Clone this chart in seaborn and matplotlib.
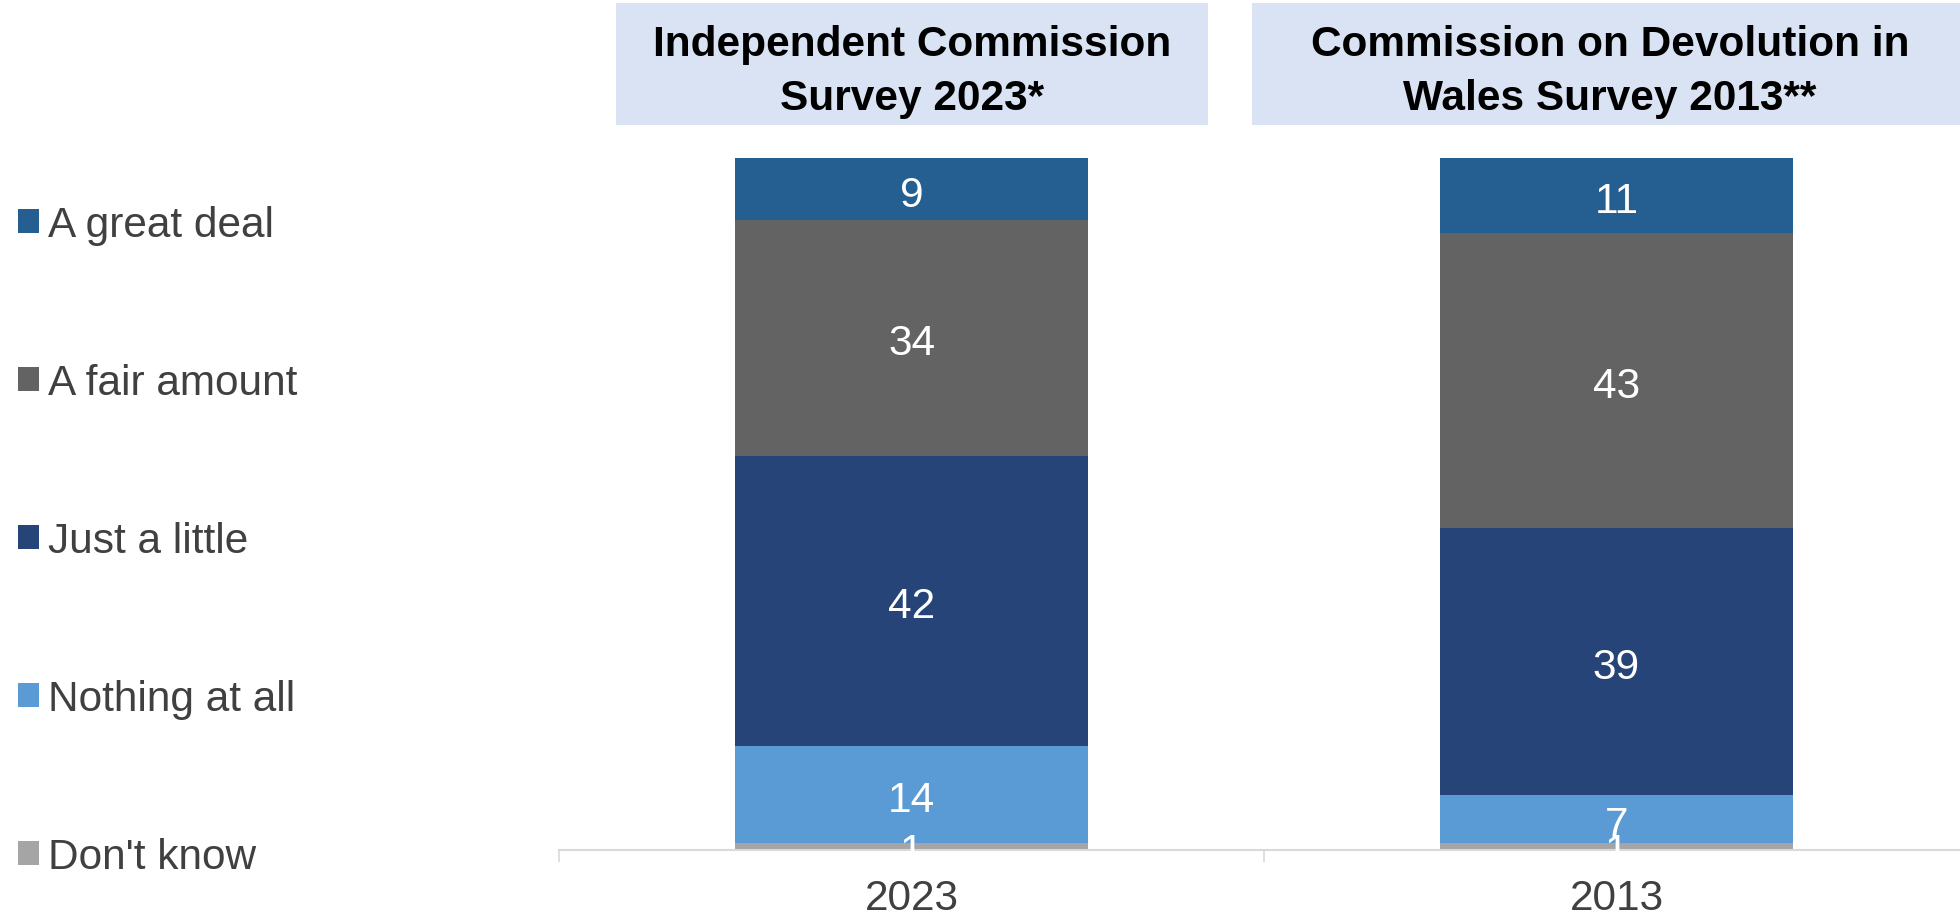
import numpy as np
import pandas as pd
import matplotlib
matplotlib.use("Agg")
import matplotlib.pyplot as plt
import seaborn as sns
from matplotlib.patches import Rectangle, Patch

# ---- data ----
years = ["2023", "2013"]
headers = ["Independent Commission\nSurvey 2023*", "Commission on Devolution in\nWales Survey 2013**"]
series_names = ["Don't know", "Nothing at all", "Just a little", "A fair amount", "A great deal"]
dont_know = [1, 1]
nothing_at_all = [14, 7]
just_a_little = [42, 39]
fair_amount = [34, 43]
great_deal = [9, 11]
colors = ["#A5A5A5", "#5B9BD5", "#264478", "#636363", "#255E91"]

sns.set_theme(style="white")
plt.rcParams["font.family"] = ["Liberation Sans", "DejaVu Sans"]

FS = 30.5
TXT = "#404040"

series = [dont_know, nothing_at_all, just_a_little, fair_amount, great_deal]
vals = np.array(series, dtype=float)  # shape (5, 2)
shares = vals / vals.sum(axis=0) * 100.0  # 100% stacked
cum = np.cumsum(shares, axis=0)

fig = plt.figure(figsize=(19.6, 9.2), dpi=100)
W, H = 1960, 920
ax = fig.add_axes([559 / W, (H - 851) / H, 1410 / W, (851 - 159) / H])

# draw tallest cumulative first, then smaller on top
for i in range(len(series) - 1, -1, -1):
    df = pd.DataFrame({"year": years, "cum": cum[i]})
    sns.barplot(data=df, x="year", y="cum", order=years, color=colors[i],
                width=0.5, saturation=1, ax=ax, linewidth=0, edgecolor="none")

# segment labels
for i in range(len(series)):
    for j in range(len(years)):
        center = cum[i, j] - shares[i, j] / 2
        ax.annotate(f"{int(vals[i, j])}", xy=(j, center), xytext=(0, -4),
                    textcoords="offset points", ha="center", va="center",
                    color="white", fontsize=FS)

ax.set_xlim(-0.5, 1.5)
ax.set_ylim(0, 100)
ax.set_xlabel("")
ax.set_ylabel("")
ax.set_yticks([])
for s in ["top", "left", "right"]:
    ax.spines[s].set_visible(False)
ax.spines["bottom"].set_color("#D9D9D9")
ax.spines["bottom"].set_linewidth(1.5)
ax.set_xticks([0, 1])
ax.set_xticklabels(years)
ax.set_xticks([-0.5, 0.5, 1.5], minor=True)
ax.tick_params(axis="x", which="major", length=0, pad=20.5, labelsize=FS, labelcolor=TXT)
ax.tick_params(axis="x", which="minor", length=8.6, width=1.2, color="#D9D9D9", direction="out", bottom=True)

# header boxes
boxes = [(616, 1208), (1252, 1975)]
text_cx = [912, 1610]
for (x0, x1), cx, h in zip(boxes, text_cx, headers):
    fig.patches.append(Rectangle((x0 / W, (H - 126) / H), (x1 - x0) / W, 122 / H,
                                 transform=fig.transFigure, facecolor="#DAE3F3",
                                 edgecolor="none", zorder=0))
    fig.text(cx / W, (H - 72) / H, h, ha="center", va="center", fontsize=FS,
             fontweight="bold", color="black", linespacing=1.42)

# legend (top: A great deal)
handles = [Patch(facecolor=colors[i], edgecolor="none") for i in range(len(series) - 1, -1, -1)]
labels = [series_names[i] for i in range(len(series) - 1, -1, -1)]
leg = fig.legend(handles, labels, loc="upper left", bbox_to_anchor=(5 / W, (H - 193) / H),
                 frameon=False, fontsize=FS, labelcolor=TXT, handlelength=0.5,
                 handleheight=0.5, handletextpad=0.22, labelspacing=2.79,
                 borderaxespad=0, borderpad=0.3)

fig.savefig("out.png", dpi=100)
